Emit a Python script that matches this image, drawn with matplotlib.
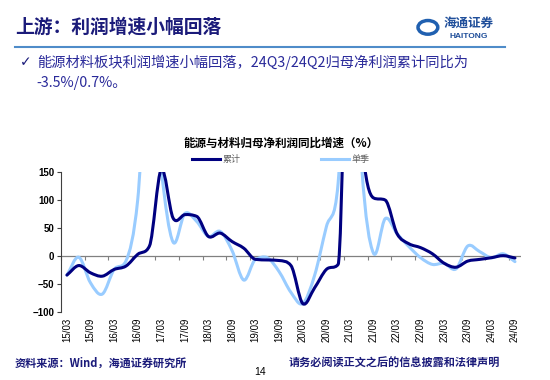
import numpy as np
import matplotlib
matplotlib.use("Agg")
import matplotlib.pyplot as plt
from matplotlib.path import Path
from matplotlib.patches import PathPatch, Circle
from matplotlib.lines import Line2D

plt.rcParams['font.family'] = ['Noto Sans CJK SC', 'DejaVu Sans']

# quarters 15/03 .. 24/09
quarters = [f"{y:02d}/{m:02d}" for y in range(15, 25) for m in (3, 6, 9, 12)][:39]
tick_labels = quarters[::2]

# 累计 (cumulative) yoy, %
cum = [-34, -17, -30, -36, -24, -18, 3, 18, 155, 68, 74, 71,
       35, 41, 26, 14, -6, -7, -8, -17, -85, -57, -24, -15,
       600, 210, 104, 100, 40, 22, 15, 4, -13, -20, -9, -6,
       -3, 0.7, -3.5]
# 单季 (single quarter) yoy, %
sq = [-34, -2, -48, -68, -24, -9, 100, 400, 155, 25, 76, 62,
      35, 44, 10, -43, -6, -3, -28, -65, -85, -35, 52, 130,
      600, 160, 5, 67, 40, 17, -3, -15, -13, -23, 18, 8,
      -3, 4, -10]

navy = "#000080"
light = "#99CCFF"
txt_navy = "#1B1B7A"


def smooth_path(x, y):
    # catmull-rom style bezier through the points, tangents limited near spikes
    x = np.asarray(x, float)
    y = np.asarray(y, float)
    h = np.diff(x)
    d = np.diff(y) / h
    m = np.zeros_like(y)
    for k in range(1, len(y) - 1):
        m[k] = (d[k - 1] + d[k]) / 2
        if d[k - 1] * d[k] > 0:
            lim = 3 * min(abs(d[k - 1]), abs(d[k]))
            m[k] = np.sign(m[k]) * min(abs(m[k]), lim)
    m[0], m[-1] = d[0], d[-1]
    verts = [(x[0], y[0])]
    codes = [Path.MOVETO]
    for k in range(len(x) - 1):
        verts += [(x[k] + h[k] / 3, y[k] + m[k] * h[k] / 3),
                  (x[k + 1] - h[k] / 3, y[k + 1] - m[k + 1] * h[k] / 3),
                  (x[k + 1], y[k + 1])]
        codes += [Path.CURVE4] * 3
    return Path(verts, codes)


fig = plt.figure(figsize=(5.5, 3.8), dpi=100)
ax = fig.add_axes([0.111, 0.179, 0.836, 0.368])

x = np.arange(len(quarters))
ax.add_patch(PathPatch(smooth_path(x, sq), fill=False, edgecolor=light, lw=2.2,
                       capstyle='round', joinstyle='round', zorder=3))
ax.add_patch(PathPatch(smooth_path(x, cum), fill=False, edgecolor=navy, lw=2.2,
                       capstyle='round', joinstyle='round', zorder=4))

ax.set_xlim(-0.5, len(quarters) - 0.5)
ax.set_ylim(-100, 150)
ax.set_yticks(np.arange(-100, 151, 50))
ax.set_xticks(x[::2])
ax.set_xticklabels(tick_labels, rotation=90, fontsize=7, family='Liberation Sans')
for lab in ax.get_yticklabels():
    lab.set_family('Liberation Sans')
    lab.set_fontweight('bold')
ax.tick_params(axis='y', labelsize=7, length=3, color='#404040', width=0.8, pad=2)
ax.tick_params(axis='x', length=0, pad=4)
for s in ['top', 'right', 'bottom']:
    ax.spines[s].set_visible(False)
ax.spines['left'].set_color('#404040')
ax.spines['left'].set_linewidth(0.8)

# zero line with category tick marks
ax.axhline(0, color='#808080', lw=0.9, zorder=2)
sec = ax.secondary_xaxis(0.4)
sec.set_xticks(np.arange(-0.5, len(quarters), 2))
sec.tick_params(axis='x', labelbottom=False, labeltop=False, length=3,
                color='#808080', width=0.8, direction='out')
sec.spines['bottom'].set_visible(False)
sec.spines['top'].set_visible(False)

handles = [Line2D([], [], color=navy, lw=2.2), Line2D([], [], color=light, lw=2.2)]
ax.legend(handles, ['累计', '单季'], ncol=2, loc='center', bbox_to_anchor=(0.478, 1.09),
          frameon=False, fontsize=6.5, handlelength=3, columnspacing=9,
          handletextpad=0.3, labelcolor='#606060')

fig.text(0.511, 0.624, '能源与材料归母净利润同比增速（%）', ha='center', va='center',
         fontsize=8.3, fontweight='bold', color='black')

# slide header
fig.text(0.027, 0.929, '上游：利润增速小幅回落', ha='left', va='center',
         fontsize=13.5, fontweight='bold', color=txt_navy)
fig.add_artist(Line2D([0.027, 0.918], [0.876, 0.876], color='#4F8CC9', lw=1.5))
fig.add_artist(Circle((0.778, 0.928), 0.018, transform=fig.transFigure,
                      fill=False, edgecolor='#2060B0', lw=2.5))
fig.text(0.807, 0.94, '海通证券', ha='left', va='center', fontsize=9,
         fontweight='bold', color='#1F4E9A')
fig.text(0.818, 0.905, 'HAITONG', ha='left', va='center', fontsize=6,
         fontweight='bold', color='#1F4E9A', family='Liberation Sans')

fig.text(0.036, 0.837, '✓', ha='left', va='center', fontsize=10, color=txt_navy,
         family=['DejaVu Sans'])
fig.text(0.067, 0.837, '能源材料板块利润增速小幅回落，24Q3/24Q2归母净利润累计同比为',
         ha='left', va='center', fontsize=10.3, color='#2A2A9A')
fig.text(0.067, 0.782, '-3.5%/0.7%。', ha='left', va='center', fontsize=10.3,
         color='#2A2A9A')

# footer
fig.text(0.027, 0.045, '资料来源：Wind，海通证券研究所', ha='left', va='center',
         fontsize=8, fontweight='bold', color=txt_navy)
fig.text(0.909, 0.045, '请务必阅读正文之后的信息披露和法律声明', ha='right', va='center',
         fontsize=8, fontweight='bold', color=txt_navy)
fig.text(0.473, 0.021, '14', ha='center', va='center', fontsize=7.5, color='black',
         family='Liberation Sans')

fig.savefig('out.png', dpi=100)
